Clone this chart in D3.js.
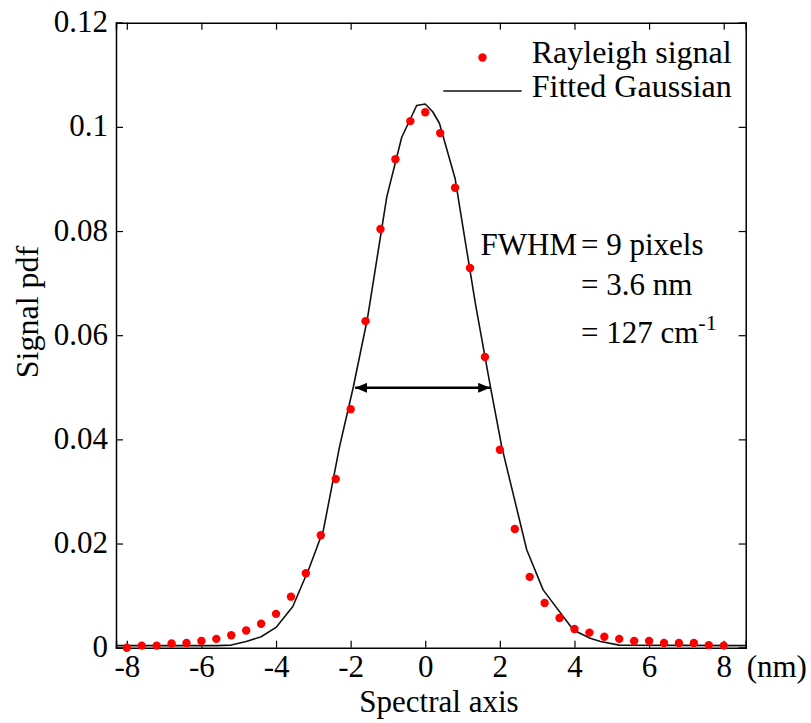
<!DOCTYPE html>
<html lang="en">
<head>
    <meta charset="UTF-8">
    <title>Rayleigh signal</title>
    <script src="https://d3js.org/d3.v7.min.js"></script>
    <style>
        body { margin: 0; background: white; }
        svg text {
            font-family: "Liberation Serif", "Times New Roman", serif;
            font-size: 31px;
            fill: black;
        }
    </style>
</head>
<body>
    <svg width="811" height="723"></svg>

    <script>
        // measured points (0.4 nm per pixel)
        const pointX = [-8, -7.6, -7.2, -6.8, -6.4, -6, -5.6, -5.2, -4.8, -4.4, -4, -3.6, -3.2, -2.8, -2.4, -2, -1.6, -1.2, -0.8, -0.4,
            0, 0.4, 0.8, 1.2, 1.6, 2, 2.4, 2.8, 3.2, 3.6, 4, 4.4, 4.8, 5.2, 5.6, 6, 6.4, 6.8, 7.2, 7.6, 8];
        const pointY = [0.0000, 0.0004, 0.0004, 0.0008, 0.0009, 0.0013, 0.0017, 0.0024, 0.0033, 0.0046, 0.0065, 0.0098, 0.0143, 0.0216, 0.0324, 0.0458, 0.0627, 0.0804, 0.0938, 0.1011,
            0.1028, 0.0988, 0.0883, 0.0729, 0.0558, 0.0380, 0.0228, 0.0136, 0.0086, 0.0057, 0.0036, 0.0029, 0.0021, 0.0017, 0.0013, 0.0013, 0.0009, 0.0009, 0.0009, 0.0005, 0.0004];

        // fitted gaussian, vertices
        const fitX = [-8.3, -5.6, -5.2, -4.8, -4.4, -4.0, -3.55, -3.1, -2.73, -2.3, -1.93, -1.55, -1.03, -0.63, -0.23, 0, 0.2, 0.38, 0.8, 0.98,
            1.35, 1.75, 2.05, 2.72, 3.16, 3.97, 4.42, 4.7, 5.2, 8.6];
        const fitY = [0.0004, 0.0004, 0.0005, 0.0012, 0.0021, 0.0039, 0.0079, 0.0155, 0.0226, 0.0385, 0.0500, 0.0632, 0.0866, 0.0980, 0.1041, 0.1044, 0.1029, 0.1007, 0.0901, 0.0821,
            0.0658, 0.0500, 0.0386, 0.0188, 0.0111, 0.0034, 0.0018, 0.0012, 0.0005, 0.0004];

        const xTicks = [-8, -6, -4, -2, 0, 2, 4, 6, 8];
        const yTicks = [0, 0.02, 0.04, 0.06, 0.08, 0.1, 0.12];
        const fwhmX = [-1.88, 1.74];
        const fwhmY = 0.0499;
        const fwhmLines = ["= 9 pixels", "= 3.6 nm", "= 127 cm"];

        const margin = {top: 22.7, right: 65.3, bottom: 75.3, left: 116};
        const width = 811 - margin.left - margin.right;
        const height = 723 - margin.top - margin.bottom;

        const svg = d3.select("svg")
            .append("g")
            .attr("transform", `translate(${margin.left},${margin.top})`);

        const x = d3.scaleLinear().domain([-8.29, 8.59]).range([0, width]);
        const y = d3.scaleLinear().domain([0, 0.12]).range([height, 0]);

        const tick = 7;

        // axes, ticks pointing inward on all four sides
        const bottom = svg.append("g")
            .attr("transform", `translate(0,${height})`)
            .call(d3.axisBottom(x).tickValues(xTicks).tickSize(-tick).tickFormat(d => d));
        bottom.selectAll("text").attr("y", 29.6).attr("dy", null);

        svg.append("g")
            .call(d3.axisTop(x).tickValues(xTicks).tickSize(-tick).tickFormat(""));

        const left = svg.append("g")
            .call(d3.axisLeft(y).tickValues(yTicks).tickSize(-tick).tickFormat(d => d === 0 ? "0" : d3.format("")(+d.toFixed(2))));
        left.selectAll("text").attr("x", -8).attr("dy", null).attr("y", 9);

        svg.append("g")
            .attr("transform", `translate(${width},0)`)
            .call(d3.axisRight(y).tickValues(yTicks).tickSize(-tick).tickFormat(""));

        svg.selectAll(".domain").attr("stroke", "black").attr("stroke-width", 1.5);
        svg.selectAll(".tick line").attr("stroke", "black").attr("stroke-width", 1.2);
        svg.selectAll(".tick text").style("font-family", "'Liberation Serif', serif").style("font-size", "31px").attr("fill", "black");

        svg.append("text")
            .attr("x", width + 1)
            .attr("y", height + 29.6)
            .text("(nm)");

        // axis titles
        svg.append("text")
            .attr("x", 439 - margin.left)
            .attr("y", 711.7 - margin.top)
            .attr("text-anchor", "middle")
            .text("Spectral axis");

        svg.append("text")
            .attr("transform", `translate(${38 - margin.left},${312 - margin.top}) rotate(-90)`)
            .attr("text-anchor", "middle")
            .style("font-size", "32px")
            .text("Signal pdf");

        // fitted gaussian
        const line = d3.line()
            .x((d, i) => x(fitX[i]))
            .y(d => y(d));

        svg.append("clipPath").attr("id", "clip")
            .append("rect").attr("width", width).attr("height", height);

        svg.append("path")
            .datum(fitY)
            .attr("clip-path", "url(#clip)")
            .attr("fill", "none")
            .attr("stroke", "#111")
            .attr("stroke-width", 1.6)
            .attr("stroke-linejoin", "round")
            .attr("d", line);

        // rayleigh signal points
        svg.selectAll(".pt")
            .data(pointY)
            .join("circle")
            .attr("class", "pt")
            .attr("cx", (d, i) => x(pointX[i]))
            .attr("cy", d => y(d))
            .attr("r", 4.2)
            .attr("fill", "#ff0000");

        // FWHM arrow
        const defs = svg.append("defs");
        ["start", "end"].forEach(k => {
            defs.append("marker")
                .attr("id", "arrow-" + k)
                .attr("viewBox", "0 0 12 10")
                .attr("refX", k === "end" ? 12 : 0)
                .attr("refY", 5)
                .attr("markerWidth", 12)
                .attr("markerHeight", 10)
                .attr("markerUnits", "userSpaceOnUse")
                .attr("orient", "auto")
                .append("path")
                .attr("d", k === "end" ? "M0,0L12,5L0,10Z" : "M12,0L0,5L12,10Z")
                .attr("fill", "black");
        });

        svg.append("line")
            .attr("x1", x(fwhmX[0]))
            .attr("x2", x(fwhmX[1]))
            .attr("y1", y(fwhmY))
            .attr("y2", y(fwhmY))
            .attr("stroke", "black")
            .attr("stroke-width", 2.5)
            .attr("marker-start", "url(#arrow-start)")
            .attr("marker-end", "url(#arrow-end)");

        // FWHM annotation
        const ax = 581 - margin.left;
        svg.append("text")
            .attr("x", ax - 4)
            .attr("y", 255 - margin.top)
            .attr("text-anchor", "end")
            .text("FWHM");

        const baselines = [255, 295, 343.3];
        fwhmLines.forEach((t, i) => {
            const tx = svg.append("text")
                .attr("x", ax)
                .attr("y", baselines[i] - margin.top)
                .text(t);
            if (i === 2) {
                tx.append("tspan")
                    .attr("dy", -13)
                    .style("font-size", "22px")
                    .text("-1");
            }
        });

        // legend
        const lg = svg.append("g");
        lg.append("circle")
            .attr("cx", 482.5 - margin.left)
            .attr("cy", 57.5 - margin.top)
            .attr("r", 4.2)
            .attr("fill", "#ff0000");
        lg.append("text")
            .attr("x", 531.7 - margin.left)
            .attr("y", 63.3 - margin.top)
            .style("font-size", "32px")
            .text("Rayleigh signal");
        lg.append("line")
            .attr("x1", 443.3 - margin.left)
            .attr("x2", 521.7 - margin.left)
            .attr("y1", 91 - margin.top)
            .attr("y2", 91 - margin.top)
            .attr("stroke", "#111")
            .attr("stroke-width", 1.6);
        lg.append("text")
            .attr("x", 531.7 - margin.left)
            .attr("y", 96.7 - margin.top)
            .style("font-size", "32px")
            .text("Fitted Gaussian");
    </script>
</body>
</html>
